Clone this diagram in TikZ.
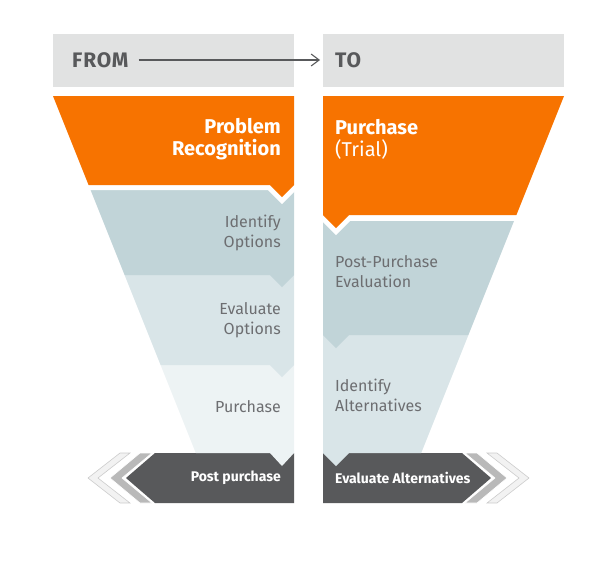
\documentclass[tikz,border=0pt]{standalone}
\usepackage{fontspec}
\setmainfont{Fira Sans}
\usetikzlibrary{arrows.meta,positioning}

\definecolor{hdrgray}{HTML}{E1E2E2}
\definecolor{darkgray}{HTML}{58595B}
\definecolor{txtgray}{HTML}{6D6E71}
\definecolor{funorange}{HTML}{F77300}
\definecolor{bandA}{HTML}{C1D4D8}
\definecolor{bandB}{HTML}{D9E5E8}
\definecolor{bandC}{HTML}{EDF3F4}

\begin{document}
\begin{tikzpicture}[x=1pt, y=-1pt, every node/.style={inner sep=0pt},
                    >={Straight Barb[length=8pt,width=12pt]},
                    head/.style={text=darkgray, font=\fontsize{21}{22}\selectfont\bfseries\addfontfeature{LetterSpace=4}},
                    title/.style={text=white, font=\fontsize{20}{22}\selectfont},
                    lbl/.style={text=txtgray, font=\fontsize{16}{20}\selectfont},
                    foot/.style={text=white, font=\fontsize{14}{16}\selectfont\bfseries},
                    chev/.style={fill=gray!55, draw=white, line width=0.6pt},
                    chevout/.style={fill=gray!10, draw=gray!40, line width=0.6pt},
                    gapline/.style={draw=white, line width=10pt, line join=miter}]

\useasboundingbox (0,0) rectangle (594,560);

% header bar
\fill[hdrgray] (53,34) rectangle (294,87);
\fill[hdrgray] (323,34) rectangle (564,87);

\node[head, anchor=west] (from) at (72,60) {FROM};
\node[head, anchor=west] (to) at (335,60) {TO};
\draw[->, darkgray, line width=1.1pt] ([xshift=10pt]from.east) -- ([xshift=-15pt]to.west);

% bottom arrows
\fill[chevout] (120,453) -- (88,478) -- (120,503) -- (130,503) -- (98,478) -- (130,453) -- cycle;
\fill[chev] (140,453) -- (110,478) -- (140,503) -- (152,503) -- (122,478) -- (152,453) -- cycle;
\fill[darkgray] (294,453) -- (155,453) -- (126,478) -- (155,503) -- (294,503) -- cycle;

\fill[chevout] (497,453) -- (529,478) -- (497,503) -- (487,503) -- (519,478) -- (487,453) -- cycle;
\fill[chev] (477,453) -- (507,478) -- (477,503) -- (465,503) -- (495,478) -- (465,453) -- cycle;
\fill[darkgray] (323,453) -- (462,453) -- (491,478) -- (462,503) -- (323,503) -- cycle;

% left funnel (from)
\fill[bandC] (160.6,365) -- (294,365) -- (294,453) -- (282,466) -- (270,453) -- (195.8,453) -- cycle;
\fill[bandB] (124.6,275) -- (294,275) -- (294,365) -- (282,377) -- (270,365) -- (160.6,365) -- cycle;
\fill[bandA] (90.6,190) -- (294,190) -- (294,275) -- (282,287) -- (270,275) -- (124.6,275) -- cycle;
\draw[gapline] (53,96) -- (294,96) -- (294,185) -- (282,197) -- (270,185) -- (88.6,185) -- cycle;
\fill[funorange] (53,96) -- (294,96) -- (294,185) -- (282,197) -- (270,185) -- (88.6,185) -- cycle;

% right funnel (to)
\fill[bandB] (323,335) -- (468.4,335) -- (421.2,453) -- (349,453) -- (336,466) -- (323,453) -- cycle;
\fill[bandA] (323,221) -- (514,221) -- (468.4,335) -- (349,335) -- (336,348) -- (323,335) -- cycle;
\draw[gapline] (323,96) -- (564,96) -- (516.4,215) -- (349,215) -- (336,228) -- (323,215) -- cycle;
\fill[funorange] (323,96) -- (564,96) -- (516.4,215) -- (349,215) -- (336,228) -- (323,215) -- cycle;

% labels
\node[title, align=right, anchor=east] (probrec) at (281,139) {\textbf{Problem}\\\textbf{Recognition}};
\node[title, align=left, anchor=west] (trial) at (335,139) {\textbf{Purchase}\\(Trial)};

\node[lbl, align=right, anchor=east] (idopt) at (281,233) {Identify\\Options};
\node[lbl, align=right, anchor=east] (evopt) at (281,320) {Evaluate\\Options};
\node[lbl, anchor=east] (purch) at (281,407) {Purchase};

\node[lbl, align=left, anchor=west] (ppeval) at (335,272) {Post-Purchase\\Evaluation};
\node[lbl, align=left, anchor=west] (idalt) at (335,395) {Identify\\Alternatives};

\node[foot, anchor=east] (postp) at (281,478) {Post purchase};
\node[foot, anchor=west] (evalt) at (335,478) {Evaluate Alternatives};
\end{tikzpicture}
\end{document}
